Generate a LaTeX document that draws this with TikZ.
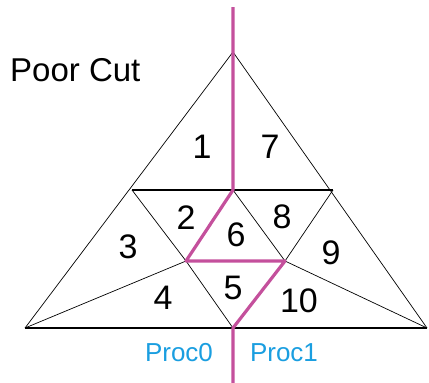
\documentclass[tikz,border=0pt]{standalone}
\usepackage{fontspec}
\setmainfont{Liberation Sans}
\definecolor{cutmag}{HTML}{C4509C}
\definecolor{proccyan}{HTML}{1A9EE0}
\begin{document}
\begin{tikzpicture}[x=1pt,y=-1pt,
  mesh/.style={black,line width=0.7pt},
  hline/.style={black,line width=1.1pt},
  cutline/.style={cutmag,line width=3.2pt,line join=round},
  num/.style={font=\fontsize{34}{34}\selectfont,inner sep=0pt},
  proc/.style={font=\fontsize{26}{26}\selectfont,text=proccyan,inner sep=0pt},
  title/.style={font=\fontsize{33}{33}\selectfont,inner sep=0pt,anchor=west}]
\useasboundingbox (0,0) rectangle (429,383);
\coordinate (A) at (233,52);
\coordinate (L) at (25,328);
\coordinate (R) at (427,328);
\coordinate (ML) at (132,190);
\coordinate (MR) at (333,190);
\coordinate (MT) at (233,190);
\coordinate (IL) at (186,261);
\coordinate (IR) at (285,261);
\coordinate (MB) at (233,328);
\coordinate (CT) at (233,7);
\coordinate (CB) at (233,383);
% mesh
\draw[mesh] (L) -- (A) -- (R);
\draw[hline] (L) -- (R);
\draw[hline] (ML) -- (MR);
\draw[mesh] (ML) -- (IL) -- (MB);
\draw[mesh] (MT) -- (IR);
\draw[mesh] (MR) -- (IR);
\draw[mesh] (L) -- (IL);
\draw[mesh] (IR) -- (R);
\draw[hline] (IL) -- (IR);
% cut
\draw[cutline] (CT) -- (MT) -- (IL) -- (IR) -- (MB) -- (CB);
% labels
\node[title] (t) at (10,70) {Poor Cut};
\node[num] (n1) at (202,147) {1};
\node[num] (n7) at (270,147) {7};
\node[num] (n2) at (186,218) {2};
\node[num] (n6) at (236,235) {6};
\node[num] (n8) at (282,217) {8};
\node[num] (n3) at (128,247) {3};
\node[num] (n9) at (331,253) {9};
\node[num] (n5) at (233,288) {5};
\node[num] (n4) at (163,298) {4};
\node[num] (n10) at (299,301) {10};
\node[proc] (p0) at (179,353) {Proc0};
\node[proc] (p1) at (284,353) {Proc1};
\end{tikzpicture}
\end{document}
